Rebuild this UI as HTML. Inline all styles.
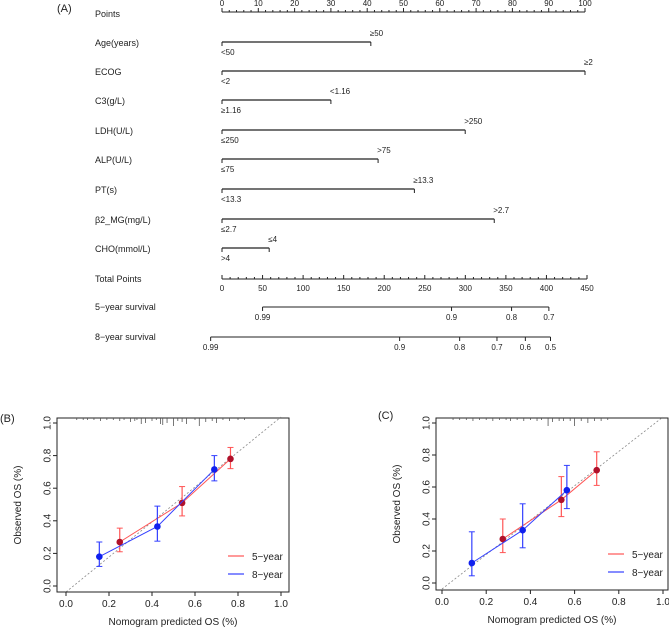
<!DOCTYPE html>
<html><head><meta charset="utf-8"><style>
body{margin:0;background:#fff}
svg{display:block}
text{font-family:"Liberation Sans",sans-serif;fill:#222}
</style></head><body>
<svg id="s" width="669" height="630" viewBox="0 0 669 630"></svg>
<script>
// ---------- Nomogram data ----------
const varNames=["Age(years)","ECOG","C3(g/L)","LDH(U/L)","ALP(U/L)","PT(s)","β2_MG(mg/L)","CHO(mmol/L)"];
const varPoints=[41,100,30,67,43,53,75,13];
const varHigh=["≥50","≥2","<1.16",">250",">75","≥13.3",">2.7","≤4"];
const varLow=["<50","<2","≥1.16","≤250","≤75","<13.3","≤2.7",">4"];
const pointTicks=[0,10,20,30,40,50,60,70,80,90,100];
const totalTicks=[0,50,100,150,200,250,300,350,400,450];
const surv5Labels=["0.99","0.9","0.8","0.7"];
const surv5Pts=[50,283,357,403];
const surv8Labels=["0.99","0.9","0.8","0.7","0.6","0.5"];
const surv8Pts=[-14,219,293,339,374,405];
// ---------- Calibration data ----------
const calTicks=[0,0.2,0.4,0.6,0.8,1.0];
const bPred5=[0.25,0.54,0.765], bObs5=[0.27,0.51,0.78], bLo5=[0.21,0.43,0.72], bHi5=[0.355,0.61,0.85];
const bPred8=[0.155,0.425,0.69], bObs8=[0.18,0.365,0.715], bLo8=[0.12,0.275,0.645], bHi8=[0.27,0.49,0.80];
const cPred5=[0.275,0.54,0.70], cObs5=[0.275,0.52,0.705], cLo5=[0.19,0.415,0.61], cHi5=[0.40,0.665,0.82];
const cPred8=[0.135,0.365,0.565], cObs8=[0.125,0.33,0.58], cLo8=[0.045,0.22,0.465], cHi8=[0.32,0.495,0.735];
const bRug=[0.05,0.08,0.1,0.13,0.16,0.19,0.22,0.25,0.27,0.3,0.32,0.33,0.35,0.37,0.4,0.42,0.44,0.45,0.47,0.5,0.52,0.54,0.56,0.6,0.62,0.65,0.68,0.7,0.73,0.76,0.8,0.83];
const bRugLen=[2,2,2,2,3,2,2,3,2,4,3,2,6,5,3,2,6,7,5,8,3,4,6,2,8,4,3,5,2,3,2,2];
const cRug=[0.05,0.08,0.11,0.14,0.17,0.2,0.23,0.26,0.29,0.31,0.34,0.37,0.4,0.43,0.45,0.48,0.5,0.53,0.55,0.58,0.6,0.63,0.66,0.69,0.72,0.75];
const cRugLen=[2,2,2,3,2,2,3,2,2,3,2,3,2,3,2,8,4,3,3,3,8,3,5,3,3,2];

const NS="http://www.w3.org/2000/svg", svg=document.getElementById("s");
function el(tag,a,txt){const e=document.createElementNS(NS,tag);for(const k in a)e.setAttribute(k,a[k]);if(txt!=null)e.textContent=txt;svg.appendChild(e);return e;}
function line(x1,y1,x2,y2,st,w,dash){return el("line",{x1,y1,x2,y2,stroke:st||"#222","stroke-width":w||1,"stroke-dasharray":dash||"none"});}

const px=p=>222+p*3.63;
const tx=t=>222+t*(365/450);
let t;
t=el("text",{x:57,y:12,"font-size":11,"font-family":"Liberation Serif"},"(A)");

t=el("text",{x:95,y:17,"font-size":9},"Points");

line(px(0),12,px(100),12);
for(let i=0;i<=100;i+=2){line(px(i),12,px(i),i%10==0?8:10);}
pointTicks.forEach(v=>{const e=el("text",{x:px(v),y:6,"font-size":8,"text-anchor":"middle"},v);
});

varNames.forEach((n,i)=>{
  const y=[42,71,100,130,159,189,219,248][i];
  let e=el("text",{x:95,y:y+4,"font-size":9},n);
  
  const g=line(px(0),y,px(varPoints[i]),y,"#222",1.2);
  
  line(px(0),y,px(0),y+4);line(px(varPoints[i]),y,px(varPoints[i]),y+4);
  e=el("text",{x:px(varPoints[i])-1,y:y-6,"font-size":8},varHigh[i]);
  
  e=el("text",{x:px(0)-1,y:y+13,"font-size":8},varLow[i]);
  
});
t=el("text",{x:95,y:282,"font-size":9},"Total Points");

line(tx(0),279,tx(450),279);
for(let i=0;i<=450;i+=10){line(tx(i),279,tx(i),i%50==0?275:277);}
totalTicks.forEach(v=>{const e=el("text",{x:tx(v),y:291,"font-size":8,"text-anchor":"middle"},v);
});
function survAxis(lbl,y,pts,labs){
  let e=el("text",{x:95,y:y+3,"font-size":9},lbl);
  
  line(tx(pts[0]),y,tx(pts[pts.length-1]),y);
  pts.forEach((p,i)=>{line(tx(p),y,tx(p),y+4);
    e=el("text",{x:tx(p),y:y+13,"font-size":8,"text-anchor":"middle"},labs[i]);
    });
}
survAxis("5−year survival",307,surv5Pts,surv5Labels);
survAxis("8−year survival",337,surv8Pts,surv8Labels);

function panel(o){
  const X=v=>o.x0+v*(o.x1-o.x0), Y=v=>o.y0+v*(o.y1-o.y0);
  let e=el("text",{x:o.lx,y:o.ly,"font-size":11,"font-family":"Liberation Serif"},o.label);
  
  e=el("rect",{x:o.bl,y:o.bt,width:o.br-o.bl,height:o.bb-o.bt,fill:"none",stroke:"#222","stroke-width":1});
  
  line(X(0),Y(0)+6,X(1),Y(1)-6,"#888",0.8,"2,2");
  calTicks.forEach(v=>{
    line(X(v),o.bb,X(v),o.bb+4);
    e=el("text",{x:X(v),y:o.bb+15,"font-size":10,"text-anchor":"middle"},v.toFixed(1));
    
    line(o.bl-4,Y(v),o.bl,Y(v));
    e=el("text",{x:o.bl-9,y:Y(v),"font-size":10,"text-anchor":"middle",transform:`rotate(-90 ${o.bl-9} ${Y(v)})`,"dominant-baseline":"middle"},v.toFixed(1));
    
  });
  line(X(0),o.bb,X(1),o.bb);
  line(o.bl,Y(0),o.bl,Y(1));
  e=el("text",{x:(o.bl+o.br)/2,y:o.bb+33,"font-size":10,"text-anchor":"middle"},"Nomogram predicted OS (%)");
  
  const yc=(o.bt+o.bb)/2, yx=o.bl-36;
  e=el("text",{x:yx,y:yc,"font-size":10,"text-anchor":"middle",transform:`rotate(-90 ${yx} ${yc})`},"Observed OS (%)");
  
  o.rug.forEach((v,i)=>{const r=line(X(v),o.bt,X(v),o.bt+o.rugLen[i],"#555",0.8);
    });
  function series(pred,obs,lo,hi,col,dot,name){
    const pl=el("polyline",{points:pred.map((p,i)=>X(p)+","+Y(obs[i])).join(" "),fill:"none",stroke:col,"stroke-width":1});
    
    pred.forEach((p,i)=>{
      line(X(p),Y(lo[i]),X(p),Y(hi[i]),col,1.2);
      line(X(p)-3,Y(lo[i]),X(p)+3,Y(lo[i]),col,1);line(X(p)-3,Y(hi[i]),X(p)+3,Y(hi[i]),col,1);
      const c=el("circle",{cx:X(p),cy:Y(obs[i]),r:3.3,fill:dot});
      
    });
  }
  series(o.p5,o.o5,o.l5,o.h5,"#f55","#b0102a","five-year");
  series(o.p8,o.o8,o.l8,o.h8,"#3340ff","#1020ee","eight-year");
  [["5−year","#f55",o.gy],["8−year","#3340ff",o.gy+18]].forEach(([n,c,y])=>{
    const l=line(o.gx,y,o.gx+16,y,c,1.2);
    const tt=el("text",{x:o.gx+24,y:y+4,"font-size":10},n);
  });
}
panel({label:"(B)",lx:0,ly:422,bl:57,br:289,bt:418,bb:592,x0:66,x1:281,y0:586,y1:423,
  p5:bPred5,o5:bObs5,l5:bLo5,h5:bHi5,p8:bPred8,o8:bObs8,l8:bLo8,h8:bHi8,rug:bRug,rugLen:bRugLen,gx:228,gy:556});
panel({label:"(C)",lx:378,ly:419,bl:436,br:668,bt:418,bb:590,x0:442,x1:663,y0:583,y1:423,
  p5:cPred5,o5:cObs5,l5:cLo5,h5:cHi5,p8:cPred8,o8:cObs8,l8:cLo8,h8:cHi8,rug:cRug,rugLen:cRugLen,gx:608,gy:554});
</script>
</body></html>
